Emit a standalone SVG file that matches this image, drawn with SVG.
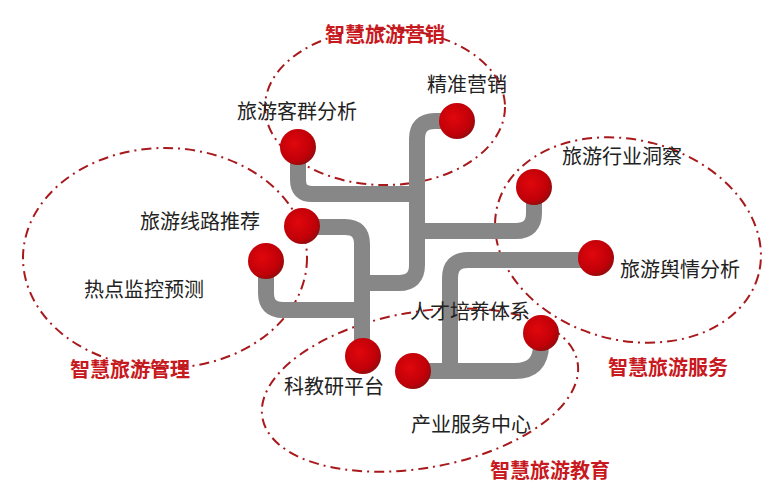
<svg xmlns="http://www.w3.org/2000/svg" width="774" height="502" viewBox="0 0 774 502">
<style>
.e{fill:none;stroke:#a8191c;stroke-width:2;stroke-dasharray:10 5 2 5}
.p{fill:none;stroke:#878787;stroke-width:16}
.t{font-family:"Liberation Sans","Noto Sans CJK SC",sans-serif;font-size:20px;fill:#222;text-anchor:middle}
.r{font-family:"Liberation Sans","Noto Sans CJK SC",sans-serif;font-size:20px;font-weight:bold;fill:#c8191e;text-anchor:middle}
.d{fill:url(#g)}
</style>
<defs><radialGradient id="g" cx="0.4" cy="0.4" r="0.6"><stop offset="0" stop-color="#e0070c"/><stop offset="0.8" stop-color="#c00008"/><stop offset="1" stop-color="#9a0a0d"/></radialGradient></defs>
<rect width="774" height="502" fill="#fff"/>
<g id="ellipses">
<ellipse class="e" cx="385" cy="107" rx="120" ry="78"/>
<ellipse class="e" cx="628" cy="240" rx="135" ry="100" transform="rotate(15 628 240)"/>
<ellipse class="e" cx="165" cy="258" rx="142" ry="110"/>
<ellipse class="e" cx="420" cy="390" rx="160" ry="78" transform="rotate(-10 420 390)"/>
</g>
<g id="connectors">
<path class="p" d="M298 147 V180 Q298 194 312 194 H417"/>
<path class="p" d="M457 121 H435 Q417 121 417 139 V265 Q417 283 399 283 H362"/>
<path class="p" d="M302 227 H345 Q362 227 362 244 V356"/>
<path class="p" d="M266 261 V293 Q266 310 283 310 H362"/>
<path class="p" d="M534 187 V213 Q534 231 516 231 H417"/>
<path class="p" d="M596 260 H468 Q450 260 450 278 V371"/>
<path class="p" d="M413 371 H515 Q541 371 541 345 V333"/>
</g>
<g id="n1"><circle class="d" cx="298" cy="147" r="18"/><text class="t" x="297" y="119">旅游客群分析</text></g>
<g id="n2"><circle class="d" cx="457" cy="121" r="18"/><text class="t" x="467" y="92">精准营销</text></g>
<g id="n3"><circle class="d" cx="534" cy="187" r="18"/><text class="t" x="622" y="164">旅游行业洞察</text></g>
<g id="n4"><circle class="d" cx="302" cy="226" r="18"/><text class="t" x="200" y="229">旅游线路推荐</text></g>
<g id="n5"><circle class="d" cx="266" cy="261" r="18"/><text class="t" x="144" y="297">热点监控预测</text></g>
<g id="n6"><circle class="d" cx="596" cy="258" r="18"/><text class="t" x="680" y="277">旅游舆情分析</text></g>
<g id="n7"><circle class="d" cx="541" cy="333" r="18"/><text class="t" x="470" y="319">人才培养体系</text></g>
<g id="n8"><circle class="d" cx="363" cy="356" r="18"/><text class="t" x="334" y="394">科教研平台</text></g>
<g id="n9"><circle class="d" cx="413" cy="371" r="18"/><text class="t" x="471" y="432">产业服务中心</text></g>
<g id="labels">
<text class="r" x="385" y="42">智慧旅游营销</text>
<text class="r" x="130" y="377">智慧旅游管理</text>
<text class="r" x="668" y="375">智慧旅游服务</text>
<text class="r" x="550" y="478">智慧旅游教育</text>
</g>
</svg>
